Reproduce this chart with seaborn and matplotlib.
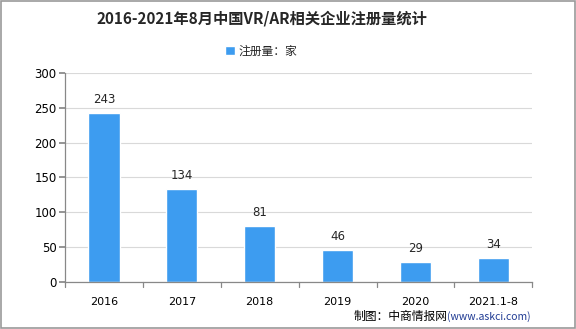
import matplotlib
matplotlib.use("Agg")
import matplotlib.pyplot as plt
import seaborn as sns
import pandas as pd
from matplotlib.patches import Rectangle

categories = ["2016", "2017", "2018", "2019", "2020", "2021.1-8"]
values = [243, 134, 81, 46, 29, 34]
yticks = [0, 50, 100, 150, 200, 250, 300]
title = "2016-2021年8月中国VR/AR相关企业注册量统计"
legend_label = "注册量：家"

sns.set_theme(style="white")
plt.rcParams['font.family'] = ['Noto Sans CJK SC', 'DejaVu Sans']

df = pd.DataFrame({"year": categories, "count": values})
bar_color = "#3d9cf0"

fig = plt.figure(figsize=(5.76, 3.29), dpi=100)
ax = fig.add_axes([0.113, 0.143, 0.811, 0.635])
sns.barplot(data=df, x="year", y="count", color=bar_color, width=0.4, ax=ax,
            saturation=1, label=legend_label)

ax.set_ylim(0, 300)
ax.set_xlim(-0.5, len(categories) - 0.5)
ax.set_yticks(yticks)
ax.set_yticklabels([str(t) for t in yticks], fontsize=8.5, family=['DejaVu Sans'])
ax.set_xticks(range(len(categories)))
ax.set_xticklabels(categories, fontsize=8, family=['DejaVu Sans'])
ax.set_xlabel("")
ax.set_ylabel("")
ax.yaxis.grid(True, color="#d9d9d9", linewidth=0.8)
ax.set_axisbelow(True)
for s in ["top", "right"]:
    ax.spines[s].set_visible(False)
for s in ["left", "bottom"]:
    ax.spines[s].set_color("#888888")
    ax.spines[s].set_linewidth(0.9)
ax.tick_params(axis="y", left=True, length=4, color="#888888", pad=2, colors="black")
ax.tick_params(axis="x", bottom=False, pad=5, colors="black")
for b in [i - 0.5 for i in range(len(categories) + 1)]:
    ax.plot([b, b], [0, -0.025], transform=ax.get_xaxis_transform(), color="#888888",
            linewidth=0.9, clip_on=False)

for i, v in enumerate(values):
    ax.text(i, v + 10, str(v), ha="center", va="bottom", fontsize=8.5, family=['DejaVu Sans'])

fig.text(0.455, 0.945, title, ha="center", va="center", fontsize=11, fontweight="bold")

leg = ax.legend(loc="center", bbox_to_anchor=(0.42, 1.105), frameon=False,
                fontsize=8.5, handlelength=0.8, handleheight=0.8, handletextpad=0.3)

url = fig.text(0.922, 0.038, "(www.askci.com)", ha="right", va="center", fontsize=7.5, color="#1f3a93")
fig.canvas.draw()
bb = url.get_window_extent()
x_left = bb.x0 / fig.bbox.width
fig.text(x_left, 0.038, "制图：中商情报网", ha="right", va="center", fontsize=8.5, color="black")

fig.patches.append(Rectangle((0.001, 0.002), 0.997, 0.995, transform=fig.transFigure,
                             fill=False, edgecolor="#999999", linewidth=1.2))

fig.savefig("out.png", dpi=100)
